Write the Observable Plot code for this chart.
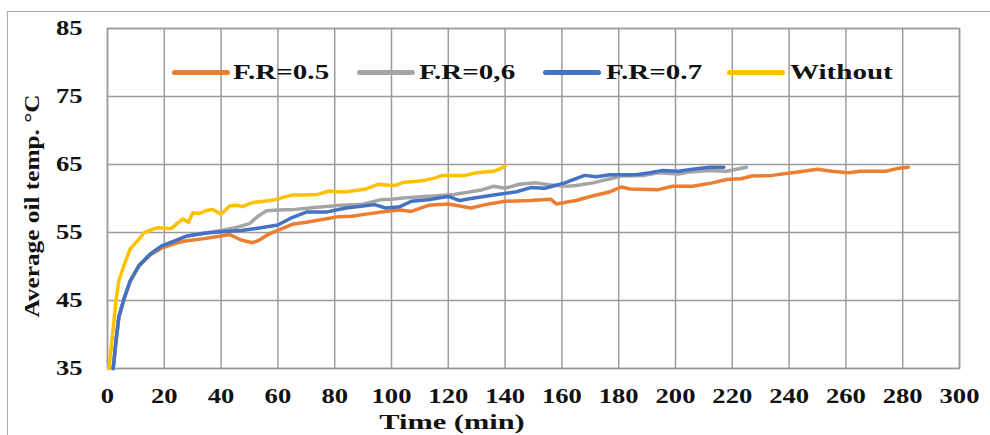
<!DOCTYPE html>
<html>
<head>
<meta charset="utf-8">
<script src="https://cdn.jsdelivr.net/npm/d3@7"></script>
<script src="https://cdn.jsdelivr.net/npm/@observablehq/plot@0.6"></script>
<style>
  html, body { margin: 0; padding: 0; background: #fff; overflow: hidden; width: 990px; height: 435px; }
  #wrap { position: relative; width: 990px; height: 435px; font-family: "Liberation Serif", "Times New Roman", serif; font-weight: bold; color: #111; }
  #wrap svg { position: absolute; left: 0; top: 0; }
  #border { position: absolute; left: 7px; top: 11px; width: 1000px; height: 500px; border: 1.5px solid #a8a8a8; }
  .swatch { position: absolute; top: 70px; height: 4.5px; border-radius: 2.5px; }
  .ltext { position: absolute; top: 72px; font-size: 22px; line-height: 1; white-space: nowrap; transform: translateY(-50%) scaleX(1.32); transform-origin: left center; }
  .title { position: absolute; font-size: 22px; line-height: 1; white-space: nowrap; }
</style>
</head>
<body>
<div id="wrap"><div id="border"></div></div>
<script>
// Series names and colours
const seriesNames = ["F.R=0.5", "F.R=0,6", "F.R=0.7", "Without"];
const seriesColors = ["#ED7D31", "#A5A5A5", "#4472C4", "#FFC000"];

// Axis ticks
const xTicks = [0, 20, 40, 60, 80, 100, 120, 140, 160, 180, 200, 220, 240, 260, 280, 300];
const yTicks = [35, 45, 55, 65, 75, 85];

// F.R=0.5
const fr05Time = [2, 3, 4, 6, 8, 11, 15, 19, 24, 28, 34, 40, 43, 47, 51, 53, 57, 60, 65, 70, 74, 81, 86, 91, 98, 103, 107, 113, 120, 124, 128, 133, 140, 149, 156, 158, 165, 170, 177, 181, 184, 194, 199, 206, 213, 218, 223, 227, 234, 241, 245, 250, 255, 261, 265, 274, 278, 282];
const fr05Temp = [35, 39, 42.5, 45.4, 47.8, 50, 51.7, 52.7, 53.4, 53.8, 54.1, 54.5, 54.7, 53.9, 53.5, 53.8, 54.8, 55.3, 56.2, 56.5, 56.8, 57.3, 57.4, 57.7, 58.1, 58.3, 58.1, 59, 59.2, 58.9, 58.6, 59.1, 59.6, 59.7, 59.9, 59.2, 59.7, 60.3, 61, 61.7, 61.4, 61.3, 61.8, 61.8, 62.3, 62.8, 62.9, 63.3, 63.4, 63.8, 64, 64.3, 64, 63.8, 64, 64, 64.4, 64.6];

// F.R=0,6
const fr06Time = [2, 3, 4, 6, 8, 11, 15, 19, 24, 28, 34, 40, 45, 50, 53, 56, 60, 66, 71, 76, 82, 89, 96, 100, 105, 112, 116, 122, 128, 132, 136, 140, 145, 151, 156, 162, 165, 171, 177, 181, 189, 194, 201, 205, 212, 218, 225];
const fr06Temp = [35, 39.1, 42.6, 45.5, 47.9, 50.1, 51.8, 53, 53.8, 54.5, 54.9, 55.3, 55.7, 56.3, 57.4, 58.2, 58.3, 58.4, 58.6, 58.8, 59, 59.1, 59.8, 59.9, 60.1, 60.3, 60.4, 60.6, 61, 61.3, 61.8, 61.5, 62.1, 62.3, 62, 61.8, 61.9, 62.3, 62.9, 63.3, 63.4, 63.8, 63.6, 63.9, 64.1, 64, 64.6];

// F.R=0.7
const fr07Time = [2, 3, 4, 6, 8, 11, 15, 19, 24, 28, 34, 40, 47, 54, 60, 65, 70, 77, 84, 90, 94, 98, 103, 107, 113, 117, 120, 124, 128, 136, 144, 149, 154, 161, 168, 172, 177, 186, 191, 195, 201, 206, 212, 217];
const fr07Temp = [35, 39.1, 42.6, 45.5, 47.9, 50.1, 51.8, 53, 53.8, 54.5, 54.9, 55.1, 55.3, 55.7, 56.1, 57.2, 58, 58, 58.6, 58.9, 59.1, 58.6, 58.8, 59.6, 59.8, 60.1, 60.3, 59.7, 60, 60.5, 61, 61.6, 61.5, 62.3, 63.4, 63.2, 63.5, 63.5, 63.8, 64.1, 64, 64.3, 64.6, 64.6];

// Without
const withoutTime = [0.5, 1.8, 3, 4, 6, 8, 11, 13, 16, 18, 21, 22.5, 25, 26.5, 28.5, 30, 32.5, 34.5, 37, 40, 43, 45.5, 47.5, 51, 55, 59, 62, 65, 70, 74, 78, 81, 84, 88, 91, 95.5, 98, 101, 104.5, 108, 112, 115, 118, 122, 126, 130, 133, 136, 139, 140];
const withoutTemp = [35, 40, 45, 47.9, 50.4, 52.6, 54, 55, 55.5, 55.7, 55.6, 55.6, 56.5, 57, 56.5, 57.9, 57.8, 58.2, 58.4, 57.7, 58.9, 59, 58.8, 59.4, 59.6, 59.8, 60.2, 60.5, 60.5, 60.6, 61.1, 61, 61, 61.2, 61.4, 62.1, 62, 61.9, 62.4, 62.5, 62.7, 63, 63.4, 63.4, 63.4, 63.8, 63.9, 64, 64.5, 64.8];

const seriesTimes = [fr05Time, fr06Time, fr07Time, withoutTime];
const seriesTemps = [fr05Temp, fr06Temp, fr07Temp, withoutTemp];

const rows = seriesNames.flatMap((name, i) =>
  seriesTimes[i].map((t, j) => ({series: name, time: t, temp: seriesTemps[i][j]}))
);

const gridColor = "#9c9c9c";

const chart = Plot.plot({
  width: 990,
  height: 435,
  marginLeft: 107,
  marginRight: 31,
  marginTop: 28,
  marginBottom: 67,
  style: {
    fontFamily: '"Liberation Serif", "Times New Roman", serif',
    fontWeight: "bold",
    fontSize: "20px",
    color: "#111",
    background: "transparent",
    overflow: "visible"
  },
  x: {domain: [0, 300], label: null},
  y: {domain: [35, 85], label: null},
  color: {domain: seriesNames, range: seriesColors},
  marks: [
    Plot.gridX(xTicks, {stroke: gridColor, strokeOpacity: 1, strokeWidth: 1.5}),
    Plot.gridY(yTicks, {stroke: gridColor, strokeOpacity: 1, strokeWidth: 1.5}),
    Plot.frame({stroke: gridColor, strokeWidth: 1.5}),
    Plot.axisX(xTicks, {tickSize: 0, tickPadding: 20, label: null}),
    Plot.axisY(yTicks, {tickSize: 0, tickPadding: 25, label: null}),
    Plot.line(rows, {
      x: "time", y: "temp", z: "series", stroke: "series",
      strokeWidth: 3.5, strokeLinejoin: "round", strokeLinecap: "round"
    })
  ]
});

const wrap = document.getElementById("wrap");
wrap.appendChild(chart);

// Wide, bold tick numerals
d3.select(chart).selectAll('g[aria-label^="x-axis"] text, g[aria-label^="y-axis"] text').each(function () {
  const w = this.getComputedTextLength();
  this.setAttribute("textLength", w * 1.33);
  this.setAttribute("lengthAdjust", "spacingAndGlyphs");
});

// Legend inside the plot area
const legendSwatchLeft = [172, 357, 543, 727];
const legendTextLeft = [233, 419, 606, 790];
seriesNames.forEach((name, i) => {
  const sw = document.createElement("div");
  sw.className = "swatch";
  sw.style.left = legendSwatchLeft[i] + "px";
  sw.style.width = "58px";
  sw.style.background = seriesColors[i];
  wrap.appendChild(sw);
  const tx = document.createElement("div");
  tx.className = "ltext";
  tx.style.left = legendTextLeft[i] + "px";
  tx.textContent = name;
  wrap.appendChild(tx);
});

// Axis titles
const xTitle = document.createElement("div");
xTitle.className = "title";
xTitle.textContent = "Time (min)";
xTitle.style.left = "452px";
xTitle.style.top = "422px";
xTitle.style.transform = "translate(-50%, -50%) scaleX(1.38)";
wrap.appendChild(xTitle);

const yTitle = document.createElement("div");
yTitle.className = "title";
yTitle.textContent = "Average oil temp. °C";
yTitle.style.left = "32px";
yTitle.style.top = "206px";
yTitle.style.transform = "translate(-50%, -50%) rotate(-90deg) scaleX(1.15)";
wrap.appendChild(yTitle);
</script>
</body>
</html>
